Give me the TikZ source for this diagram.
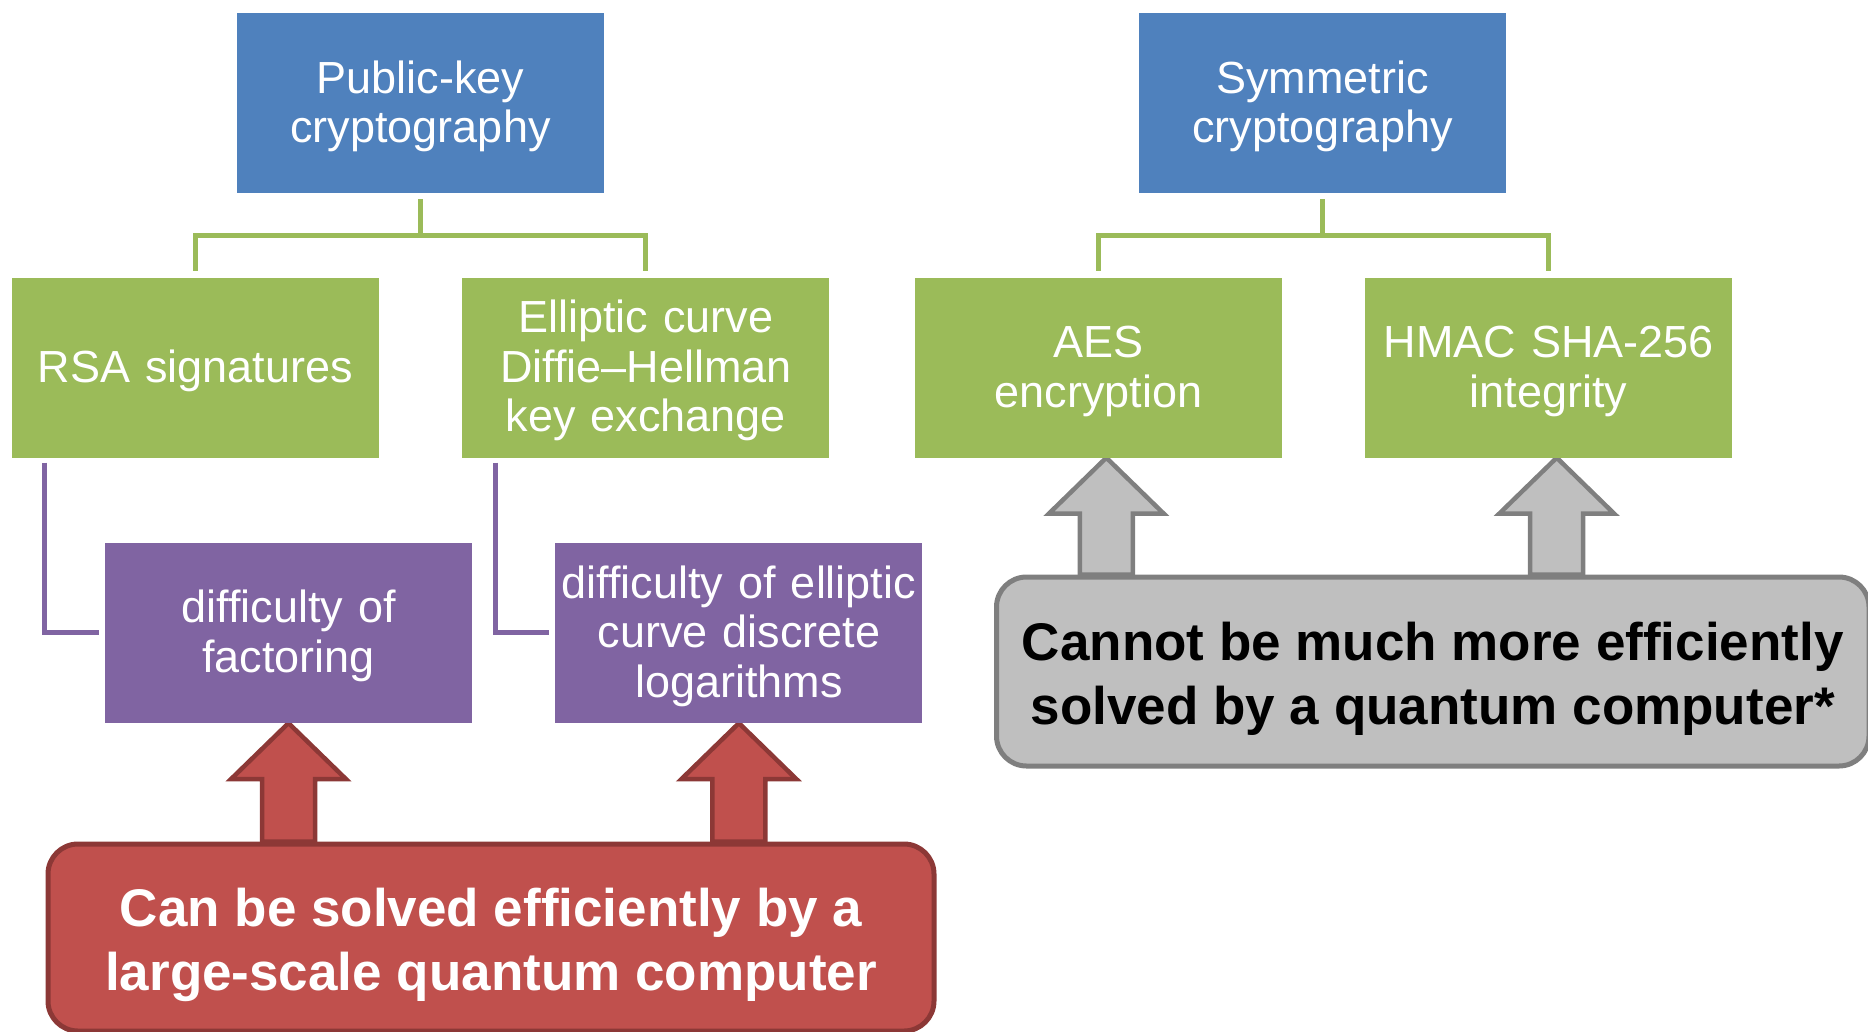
\documentclass[tikz,border=0pt]{standalone}
\usepackage{fontspec}
\setmainfont{Liberation Sans}
\usetikzlibrary{positioning,calc,backgrounds}
\definecolor{rootblue}{HTML}{4F81BD}
\definecolor{algogreen}{HTML}{9BBB59}
\definecolor{hardpurple}{HTML}{8064A2}
\definecolor{weakred}{HTML}{C0504D}
\definecolor{weakborder}{HTML}{8C3836}
\definecolor{safegray}{HTML}{BFBFBF}
\definecolor{safeborder}{HTML}{7F7F7F}
\tikzset{base box/.style={rectangle,inner sep=0pt,text width=367pt,align=center,minimum height=180pt,text=white,font=\fontsize{45}{49.5}\selectfont,execute at begin node={\rule{0pt}{39pt}}},
	root box/.style={base box,fill=rootblue},
	algo box/.style={base box,fill=algogreen},
	hard box/.style={base box,fill=hardpurple},
	tree link/.style={draw=algogreen,line width=5pt},
	hard link/.style={draw=hardpurple,line width=5pt},
	quantum box/.style={rectangle,rounded corners=30pt,line width=5pt,inner sep=0pt,align=center,font=\fontsize{53}{64}\selectfont\bfseries,text height=117pt},
	weak box/.style={quantum box,fill=weakred,draw=weakborder,text=white,minimum width=886pt,minimum height=187pt},
	safe box/.style={quantum box,fill=safegray,draw=safeborder,text=black,minimum width=872.5pt,minimum height=189pt},
	weak arrow/.style={fill=weakred,draw=weakborder,line width=4.5pt},
	safe arrow/.style={fill=safegray,draw=safeborder,line width=4.5pt},
}
% block arrow from the top of a box (#3) up to a tip (#2)
\newcommand{\liftarrow}[3]{%
	\draw[#1] let \p1=(#2), \p2=(#3.north) in
	(\x1,\y1) -- (\x1-57.5pt,\y1-56pt) -- (\x1-26.5pt,\y1-56pt) -- (\x1-26.5pt,\y2)
	-- (\x1+26.5pt,\y2) -- (\x1+26.5pt,\y1-56pt) -- (\x1+57.5pt,\y1-56pt) -- cycle;}

\begin{document}
\begin{tikzpicture}[x=1pt,y=1pt]
	\useasboundingbox (0,0) rectangle (1868,-1031);
	
	\node[root box] (pubkey) at (420.5,-103) {Public-key\\cryptography};
	\node[root box] (sym) at (1322.5,-103) {Symmetric\\cryptography};
	
	\node[algo box] (rsa) at (195.5,-367.5) {RSA signatures};
	\node[algo box] (ecdh) [right=83pt of rsa] {Elliptic curve\\Diffie–Hellman\\key exchange};
	\node[algo box] (aes) [right=85pt of ecdh] {AES\\encryption};
	\node[algo box] (hmac) [right=83pt of aes] {HMAC SHA-256\\integrity};
	
	\node[hard box] (factor) [below=85pt of rsa, xshift=93pt] {difficulty of\\factoring};
	\node[hard box] (ecdlp) [below=85pt of ecdh, xshift=93pt] {difficulty of elliptic\\curve discrete\\logarithms};
	
	\node[weak box] (weak) at (491,-937.5) {Can be solved efficiently by a\\large-scale quantum computer};
	\node[safe box] (safe) at (1432.75,-671.5) {Cannot be much more efficiently\\solved by a quantum computer*};
	
	\path[tree link]
	([yshift=-6pt]pubkey.south) -- ++(0,-36.5) -| ([yshift=6pt]rsa.north)
	([yshift=-6pt]pubkey.south) -- ++(0,-36.5) -| ([yshift=6pt]ecdh.north)
	([yshift=-6pt]sym.south) -- ++(0,-36.5) -| ([yshift=6pt]aes.north)
	([yshift=-6pt]sym.south) -- ++(0,-36.5) -| ([yshift=6pt]hmac.north);
	
	\path[hard link]
	([xshift=33pt,yshift=-5pt]rsa.south west) |- ([xshift=-6pt]factor.west)
	([xshift=33pt,yshift=-5pt]ecdh.south west) |- ([xshift=-6pt]ecdlp.west);
	
	\begin{scope}[on background layer]
		\liftarrow{weak arrow}{factor.south}{weak}
		\liftarrow{weak arrow}{ecdlp.south}{weak}
		\liftarrow{safe arrow}{[xshift=8pt]aes.south}{safe}
		\liftarrow{safe arrow}{[xshift=8pt]hmac.south}{safe}
	\end{scope}
	
\end{tikzpicture}
\end{document}
